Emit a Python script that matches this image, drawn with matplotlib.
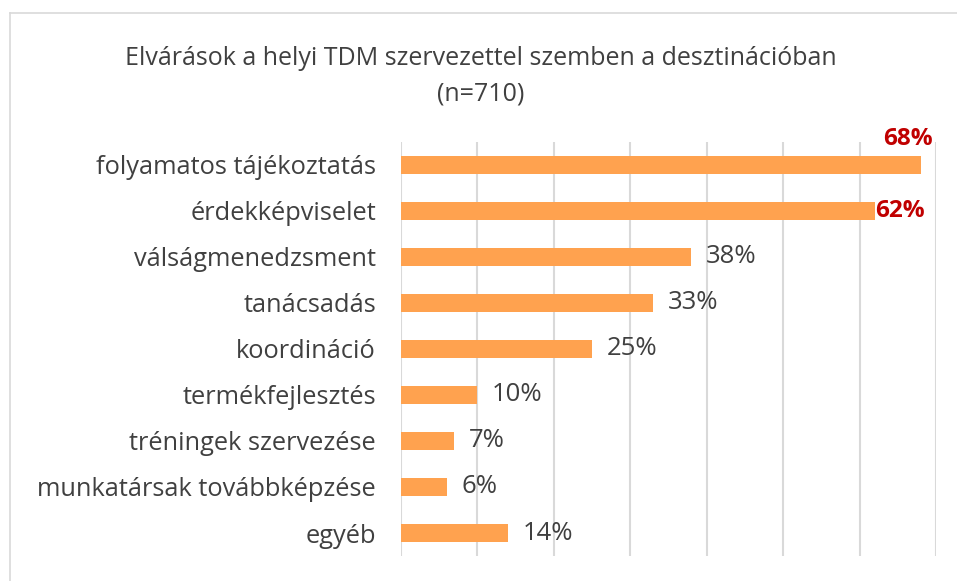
import matplotlib
matplotlib.use("Agg")
import matplotlib.pyplot as plt
from matplotlib.lines import Line2D

categories = ["folyamatos tájékoztatás", "érdekképviselet", "válságmenedzsment",
              "tanácsadás", "koordináció", "termékfejlesztés",
              "tréningek szervezése", "munkatársak továbbképzése", "egyéb"]
values = [68, 62, 38, 33, 25, 10, 7, 6, 14]
highlight = [True, True, False, False, False, False, False, False, False]
title = "Elvárások a helyi TDM szervezettel szemben a desztinációban\n(n=710)"

plt.rcParams['font.family'] = ['Open Sans', 'DejaVu Sans']
gray = "#404040"

fig = plt.figure(figsize=(9.57, 5.81), dpi=100)
ax = fig.add_axes([0.419, 0.043, 0.559, 0.713])

ypos = list(range(len(categories)))
ax.barh(ypos, values, height=0.39, color="#FFA24F", zorder=3)
ax.set_ylim(len(categories) - 0.5, -0.5)
ax.set_xlim(0, 70)
ax.set_xticks(range(0, 71, 10))
ax.xaxis.grid(True, color="#D9D9D9", linewidth=1.5, zorder=0)
ax.tick_params(axis="x", length=0, labelbottom=False)
ax.tick_params(axis="y", length=0, pad=18)
ax.set_yticks(ypos)
ax.set_yticklabels(categories, fontsize=18.3, color=gray)
for s in ax.spines.values():
    s.set_visible(False)

for y, v, h in zip(ypos, values, highlight):
    if h and v > 65:
        ax.text(69.6, y - 0.55, f"{v}%", ha="right", va="center", fontsize=17.5,
                fontweight="bold", color="#C00000")
    elif h:
        ax.text(v + 0.05, y, f"{v}%", ha="left", va="center", fontsize=17.5,
                fontweight="bold", color="#C00000")
    else:
        ax.text(v + 1.9, y, f"{v}%", ha="left", va="center", fontsize=18.5,
                color=gray)

fig.text(0.502, 0.868, title, ha="center", va="center", fontsize=18,
         color=gray, linespacing=1.55)

# keret
fig.add_artist(Line2D([0.0105, 0.0105], [0, 0.978], color="#D9D9D9", lw=1.2,
                      transform=fig.transFigure))
fig.add_artist(Line2D([0.0105, 1], [0.978, 0.978], color="#D9D9D9", lw=1.2,
                      transform=fig.transFigure))

fig.savefig("out.png", dpi=100)
